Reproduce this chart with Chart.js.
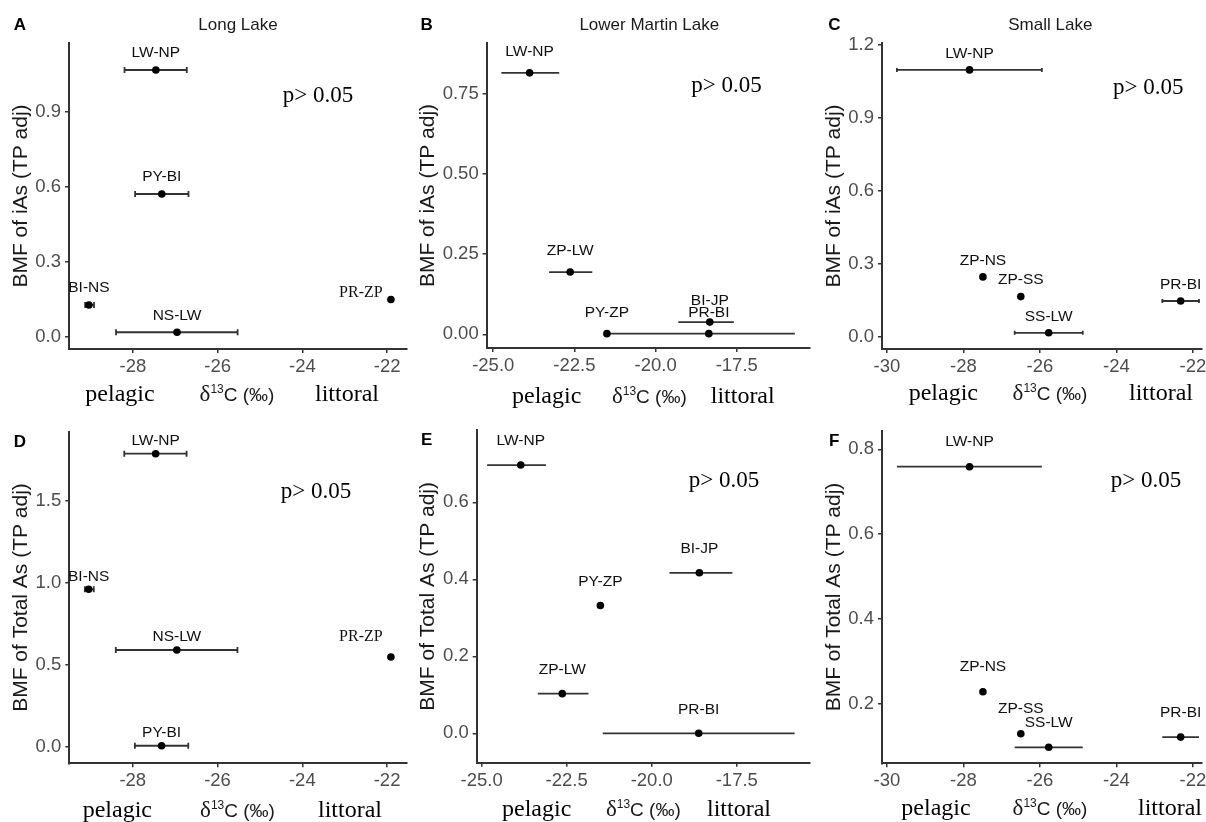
<!DOCTYPE html>
<html>
<head>
<meta charset="utf-8">
<script src="https://cdn.jsdelivr.net/npm/chart.js@4.4.1/dist/chart.umd.min.js"></script>
<style>
  body { margin: 0; background: #fff; width: 1206px; height: 822px; position: relative; overflow: hidden; }
  canvas { position: absolute; }
</style>
</head>
<body>
<script>
const sans = '"Liberation Sans", Arial, sans-serif';
const serif = '"Liberation Serif", "Times New Roman", serif';

// A: iAs, Long Lake
const longIAsLabels = ['LW-NP', 'PY-BI', 'BI-NS', 'NS-LW', 'PR-ZP'];
const longIAsD13C = [-27.46, -27.32, -29.04, -26.96, -21.91];
const longIAsBMF = [1.068, 0.572, 0.128, 0.019, 0.150];
const longIAsLo = [-28.2, -27.95, -29.13, -28.4, null];
const longIAsHi = [-26.73, -26.69, -28.92, -25.53, null];

// B: iAs, Lower Martin Lake
const martinIAsLabels = ['LW-NP', 'ZP-LW', 'PY-ZP', 'BI-JP', 'PR-BI'];
const martinIAsD13C = [-23.88, -22.63, -21.5, -18.33, -18.36];
const martinIAsBMF = [0.815, 0.194, 0.002, 0.038, 0.002];
const martinIAsLo = [-24.75, -23.28, null, -19.3, -21.58];
const martinIAsHi = [-22.97, -21.95, null, -17.59, -15.71];

// C: iAs, Small Lake
const smallIAsLabels = ['LW-NP', 'ZP-NS', 'ZP-SS', 'SS-LW', 'PR-BI'];
const smallIAsD13C = [-27.84, -27.49, -26.5, -25.77, -22.32];
const smallIAsBMF = [1.098, 0.246, 0.165, 0.016, 0.147];
const smallIAsLo = [-29.74, null, null, -26.66, -22.8];
const smallIAsHi = [-25.95, null, null, -24.88, -21.84];

// D: total As, Long Lake
const longTotLabels = ['LW-NP', 'BI-NS', 'NS-LW', 'PY-BI', 'PR-ZP'];
const longTotD13C = [-27.46, -29.04, -26.96, -27.32, -21.91];
const longTotBMF = [1.787, 0.96, 0.59, 0.006, 0.547];
const longTotLo = [-28.2, -29.13, -28.4, -27.95, null];
const longTotHi = [-26.73, -28.92, -25.53, -26.69, null];

// E: total As, Lower Martin Lake
const martinTotLabels = ['LW-NP', 'BI-JP', 'PY-ZP', 'ZP-LW', 'PR-BI'];
const martinTotD13C = [-23.85, -18.6, -21.51, -22.63, -18.62];
const martinTotBMF = [0.697, 0.417, 0.332, 0.103, 0.0];
const martinTotLo = [-24.84, -19.48, null, -23.35, -21.44];
const martinTotHi = [-23.11, -17.63, null, -21.86, -15.8];

// F: total As, Small Lake
const smallTotLabels = ['LW-NP', 'ZP-NS', 'ZP-SS', 'SS-LW', 'PR-BI'];
const smallTotD13C = [-27.84, -27.49, -26.5, -25.77, -22.32];
const smallTotBMF = [0.759, 0.229, 0.13, 0.098, 0.122];
const smallTotLo = [-29.74, null, null, -26.66, -22.8];
const smallTotHi = [-25.95, null, null, -24.88, -21.84];

// tick labels
const xTicksLong = ['-28', '-26', '-24', '-22'];
const xTicksMartin = ['-25.0', '-22.5', '-20.0', '-17.5'];
const xTicksSmall = ['-30', '-28', '-26', '-24', '-22'];
const yTicksA = ['0.0', '0.3', '0.6', '0.9'];
const yTicksB = ['0.00', '0.25', '0.50', '0.75'];
const yTicksC = ['0.0', '0.3', '0.6', '0.9', '1.2'];
const yTicksD = ['0.0', '0.5', '1.0', '1.5'];
const yTicksE = ['0.0', '0.2', '0.4', '0.6'];
const yTicksF = ['0.2', '0.4', '0.6', '0.8'];

const iAsTitle = 'BMF of iAs (TP adj)';
const totTitle = 'BMF of Total As (TP adj)';

// layout per panel (page coords): box = canvas, area = plot area
const panels = [
  { box: [0, 0, 412, 410], area: [69, 43, 407, 349], x: [-29.511, -21.53], y: [-0.048, 1.176],
    xTicks: xTicksLong, yTicks: yTicksA, yTitle: iAsTitle, titlePad: 8.5,
    letter: ['A', 20, 30], title: ['Long Lake', 238, 29.5], p: [318, 102], bottom: [401, 120, 237, 347],
    labels: longIAsLabels, d13c: longIAsD13C, bmf: longIAsBMF, lo: longIAsLo, hi: longIAsHi,
    labelDy: -17, cap: 6, shift: { 'PR-ZP': [-30, -7] } },
  { box: [400, 0, 414, 410], area: [486.7, 43, 813, 348], x: [-25.2015, -15.238], y: [-0.0427, 0.908],
    xTicks: xTicksMartin, yTicks: yTicksB, yTitle: iAsTitle, titlePad: 16,
    letter: ['B', 426.7, 30], title: ['Lower Martin Lake', 649.3, 29.5], p: [726.5, 92], bottom: [403, 546.7, 649.3, 742.7],
    labels: martinIAsLabels, d13c: martinIAsD13C, bmf: martinIAsBMF, lo: martinIAsLo, hi: martinIAsHi,
    labelDy: -21, cap: 0, shift: {} },
  { box: [806, 0, 400, 410], area: [882, 43, 1206, 349], x: [-30.129, -21.757], y: [-0.0506, 1.2086],
    xTicks: xTicksSmall, yTicks: yTicksC, yTitle: iAsTitle, titlePad: 16,
    letter: ['C', 834.3, 30], title: ['Small Lake', 1050.3, 29.5], p: [1148.3, 94], bottom: [400, 943.3, 1050, 1161],
    labels: smallIAsLabels, d13c: smallIAsD13C, bmf: smallIAsBMF, lo: smallIAsLo, hi: smallIAsHi,
    labelDy: -16.5, cap: 4, shift: {} },
  { box: [0, 410, 412, 412], area: [69.3, 431.7, 407, 763.3], x: [-29.497, -21.53], y: [-0.101, 1.921],
    xTicks: xTicksLong, yTicks: yTicksD, yTitle: totTitle, titlePad: 8.5,
    letter: ['D', 20, 447], title: null, p: [316, 498], bottom: [817, 117.3, 237.5, 350],
    labels: longTotLabels, d13c: longTotD13C, bmf: longTotBMF, lo: longTotLo, hi: longTotHi,
    labelDy: -13, cap: 6, shift: { 'PR-ZP': [-30, -20] } },
  { box: [400, 410, 414, 412], area: [476.7, 430, 813, 762.7], x: [-25.146, -15.341], y: [-0.0764, 0.788],
    xTicks: xTicksMartin, yTicks: yTicksE, yTitle: totTitle, titlePad: 16,
    letter: ['E', 426.7, 445], title: null, p: [724, 487], bottom: [816, 536.7, 643.3, 739],
    labels: martinTotLabels, d13c: martinTotD13C, bmf: martinTotBMF, lo: martinTotLo, hi: martinTotHi,
    labelDy: -24, cap: 0, shift: {} },
  { box: [806, 410, 400, 412], area: [882, 430.7, 1206, 763.3], x: [-30.129, -21.757], y: [0.0603, 0.8438],
    xTicks: xTicksSmall, yTicks: yTicksF, yTitle: totTitle, titlePad: 16,
    letter: ['F', 834.3, 446], title: null, p: [1146, 487], bottom: [815, 936, 1050, 1170],
    labels: smallTotLabels, d13c: smallTotD13C, bmf: smallTotBMF, lo: smallTotLo, hi: smallTotHi,
    labelDy: -24.5, cap: 0, shift: {} }
];

function overlay(p) {
  const ox = p.box[0], oy = p.box[1];
  return {
    id: 'overlay',
    beforeDatasetsDraw(chart) {
      const { ctx, scales: { x, y } } = chart;
      ctx.save();
      ctx.strokeStyle = '#333';
      ctx.lineWidth = 1.8;
      p.lo.forEach((lo, i) => {
        if (lo == null) return;
        const py = y.getPixelForValue(p.bmf[i]);
        const x1 = x.getPixelForValue(lo);
        const x2 = x.getPixelForValue(p.hi[i]);
        ctx.beginPath();
        ctx.moveTo(x1, py);
        ctx.lineTo(x2, py);
        if (p.cap) {
          ctx.moveTo(x1, py - p.cap / 2); ctx.lineTo(x1, py + p.cap / 2);
          ctx.moveTo(x2, py - p.cap / 2); ctx.lineTo(x2, py + p.cap / 2);
        }
        ctx.stroke();
      });
      ctx.restore();
    },
    afterDatasetsDraw(chart) {
      const ctx = chart.ctx;
      const pts = chart.getDatasetMeta(0).data;
      ctx.save();
      ctx.textAlign = 'center';
      ctx.textBaseline = 'middle';
      ctx.fillStyle = '#111';
      p.labels.forEach((lab, i) => {
        const s = p.shift[lab];
        ctx.font = s ? '16px ' + serif : '15.5px ' + sans;
        const dx = s ? s[0] : 0, dy = s ? s[1] : p.labelDy;
        ctx.fillText(lab, pts[i].x + dx, pts[i].y + dy);
      });
      ctx.restore();
    },
    afterDraw(chart) {
      const ctx = chart.ctx;
      ctx.save();
      ctx.textBaseline = 'alphabetic';
      ctx.textAlign = 'center';
      ctx.fillStyle = '#000';
      ctx.font = 'bold 17px ' + sans;
      ctx.fillText(p.letter[0], p.letter[1] - ox, p.letter[2] - oy);
      if (p.title) {
        ctx.fillStyle = '#1a1a1a';
        ctx.font = '17px ' + sans;
        ctx.fillText(p.title[0], p.title[1] - ox, p.title[2] - oy);
      }
      ctx.fillStyle = '#000';
      ctx.font = '23px ' + serif;
      ctx.fillText('p> 0.05', p.p[0] - ox, p.p[1] - oy);
      const [by, xPel, xDel, xLit] = p.bottom;
      ctx.font = '24px ' + serif;
      ctx.fillText('pelagic', xPel - ox, by - oy);
      ctx.fillText('littoral', xLit - ox, by - oy);
      // δ13C (‰)
      const parts = [['δ', '23px ' + serif, 0], ['13', '12px ' + sans, -8], ['C (‰)', '19px ' + sans, 0]];
      let total = 0;
      parts.forEach(pt => { ctx.font = pt[1]; pt.push(ctx.measureText(pt[0]).width); total += pt[3]; });
      let cx = xDel - ox - total / 2;
      ctx.textAlign = 'left';
      ctx.fillStyle = '#1a1a1a';
      parts.forEach(pt => {
        ctx.font = pt[1];
        ctx.fillText(pt[0], cx, by - oy + pt[2]);
        cx += pt[3];
      });
      ctx.restore();
    }
  };
}

panels.forEach(p => {
  const [left, top, w, h] = p.box;
  const [al, at, ar, ab] = p.area;
  const c = document.createElement('canvas');
  c.width = w;
  c.height = h;
  c.style.left = left + 'px';
  c.style.top = top + 'px';
  document.body.appendChild(c);
  const xAxisH = 30;

  new Chart(c, {
    type: 'scatter',
    data: {
      datasets: [{
        data: p.d13c.map((v, i) => ({ x: v, y: p.bmf[i] })),
        pointRadius: 3.8,
        pointHoverRadius: 3.8,
        pointBackgroundColor: '#000',
        pointBorderWidth: 0
      }]
    },
    options: {
      responsive: false,
      animation: false,
      events: [],
      layout: { padding: { left: 0, top: at - top, right: left + w - ar, bottom: top + h - ab - xAxisH } },
      plugins: { legend: { display: false }, tooltip: { enabled: false } },
      scales: {
        x: {
          type: 'linear',
          min: p.x[0], max: p.x[1],
          afterBuildTicks: s => { s.ticks = p.xTicks.map(v => ({ value: +v })); },
          afterFit: s => { s.height = xAxisH; s.paddingLeft = 0; s.paddingRight = 0; },
          ticks: { autoSkip: false, maxRotation: 0, padding: 3, color: '#4d4d4d',
            font: { family: sans, size: 18.5 }, callback: (v, i) => p.xTicks[i] },
          grid: { drawOnChartArea: false, tickLength: 4, color: '#333', lineWidth: 1.5 },
          border: { color: '#333', width: 2 }
        },
        y: {
          type: 'linear',
          min: p.y[0], max: p.y[1],
          afterBuildTicks: s => { s.ticks = p.yTicks.map(v => ({ value: +v })); },
          afterFit: s => { s.width = al - left; s.paddingTop = 0; s.paddingBottom = 0; },
          ticks: { autoSkip: false, padding: 4, color: '#4d4d4d',
            font: { family: sans, size: 18.5 }, callback: (v, i) => p.yTicks[i] },
          grid: { drawOnChartArea: false, tickLength: 4, color: '#333', lineWidth: 1.5 },
          border: { color: '#333', width: 2 },
          title: { display: true, text: p.yTitle, color: '#1a1a1a',
            font: { family: sans, size: 21 }, padding: { top: p.titlePad, bottom: 0 } }
        }
      }
    },
    plugins: [overlay(p)]
  });
});
</script>
</body>
</html>
